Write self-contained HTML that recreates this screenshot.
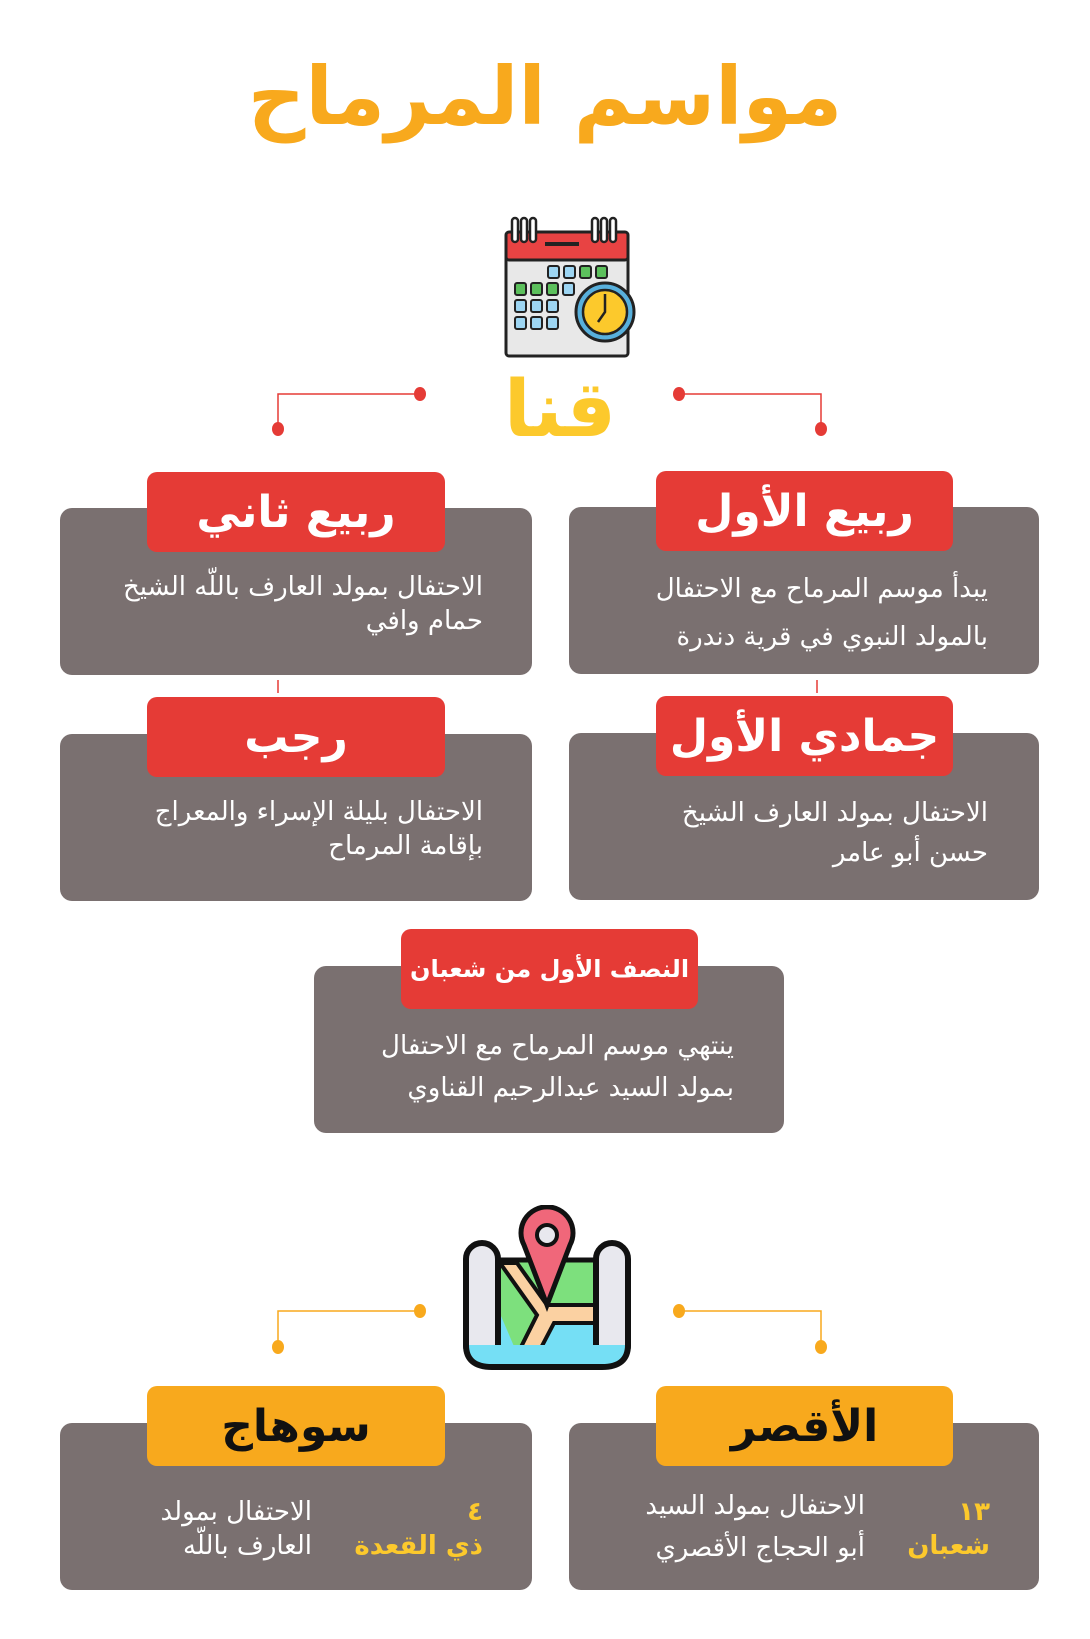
<!DOCTYPE html>
<html><head><meta charset="utf-8"><style>
body{margin:0;width:1090px;height:1639px;background:#fff;position:relative;overflow:hidden;font-family:"DejaVu Sans","Liberation Sans",sans-serif;}
.a{position:absolute}
.box{position:absolute;background:#7a7070;border-radius:12px}
.hd{position:absolute;border-radius:10px;color:#fff;font-weight:bold;font-size:44px;display:flex;align-items:center;justify-content:center;direction:rtl;white-space:nowrap}
.red{background:#e53b36}
.org{background:#f8a91d;color:#111}
.tx{position:absolute;direction:rtl;text-align:right;color:#fff;font-size:26px;line-height:44px;white-space:nowrap}
</style></head><body>
<div class="a" style="left:0;width:1090px;top:50px;text-align:center;font-size:80px;font-weight:bold;color:#f8a91d;direction:rtl">مواسم المرماح</div>

<svg class="a" style="left:500px;top:210px" width="145" height="150" viewBox="0 0 145 150">
<rect x="6" y="40" width="122" height="106" fill="#e8e8e8" stroke="#222" stroke-width="3" rx="3"/>
<rect x="6" y="22" width="122" height="28" fill="#e84343" stroke="#222" stroke-width="3" rx="3"/>
<g fill="#fff" stroke="#222" stroke-width="2.5"><rect x="12" y="8" width="6" height="24" rx="3"/><rect x="21" y="8" width="6" height="24" rx="3"/><rect x="30" y="8" width="6" height="24" rx="3"/><rect x="92" y="8" width="6" height="24" rx="3"/><rect x="101" y="8" width="6" height="24" rx="3"/><rect x="110" y="8" width="6" height="24" rx="3"/></g>
<rect x="45" y="32" width="34" height="4" fill="#222"/>
<g fill="#9dd5f2" stroke="#222" stroke-width="2"><rect x="48" y="56" width="11" height="12" rx="2"/><rect x="64" y="56" width="11" height="12" rx="2"/><rect x="15" y="90" width="11" height="12" rx="2"/><rect x="31" y="90" width="11" height="12" rx="2"/><rect x="47" y="90" width="11" height="12" rx="2"/><rect x="15" y="107" width="11" height="12" rx="2"/><rect x="31" y="107" width="11" height="12" rx="2"/><rect x="47" y="107" width="11" height="12" rx="2"/><rect x="63" y="73" width="11" height="12" rx="2"/></g>
<g fill="#5cc05c" stroke="#222" stroke-width="2"><rect x="80" y="56" width="11" height="12" rx="2"/><rect x="96" y="56" width="11" height="12" rx="2"/><rect x="15" y="73" width="11" height="12" rx="2"/><rect x="31" y="73" width="11" height="12" rx="2"/><rect x="47" y="73" width="11" height="12" rx="2"/></g>
<circle cx="105" cy="102" r="29" fill="#58b0dc" stroke="#222" stroke-width="3"/>
<circle cx="105" cy="102" r="22" fill="#fcc92c" stroke="#222" stroke-width="2.5"/>
<path d="M105 84V102L98 112" stroke="#222" stroke-width="2.5" fill="none"/>
</svg>

<div class="a" style="left:490px;width:140px;top:365px;text-align:center;font-size:78px;font-weight:bold;color:#fcc92c;direction:rtl">قنا</div>

<svg class="a" style="left:0;top:0" width="1090" height="1639">
<g stroke="#e53b36" stroke-width="1.5" fill="none"><path d="M420 394H278V429"/><path d="M679 394H821V429"/><path d="M278 680V693"/><path d="M817 680V693"/></g>
<g fill="#e53b36"><ellipse cx="420" cy="394" rx="6" ry="7"/><ellipse cx="278" cy="429" rx="6" ry="7"/><ellipse cx="679" cy="394" rx="6" ry="7"/><ellipse cx="821" cy="429" rx="6" ry="7"/></g>
<g stroke="#f8a91d" stroke-width="1.5" fill="none"><path d="M420 1311H278V1347"/><path d="M679 1311H821V1347"/></g>
<g fill="#f8a91d"><ellipse cx="420" cy="1311" rx="6" ry="7"/><ellipse cx="278" cy="1347" rx="6" ry="7"/><ellipse cx="679" cy="1311" rx="6" ry="7"/><ellipse cx="821" cy="1347" rx="6" ry="7"/></g>
</svg>

<div class="box" style="left:60px;top:508px;width:472px;height:167px"></div>
<div class="hd red" style="left:147px;top:472px;width:298px;height:80px">ربيع ثاني</div>
<div class="tx" style="right:607px;top:570px;line-height:34px">الاحتفال بمولد العارف باللّه الشيخ<br>حمام وافي</div>

<div class="box" style="left:569px;top:507px;width:470px;height:167px"></div>
<div class="hd red" style="left:656px;top:471px;width:297px;height:80px">ربيع الأول</div>
<div class="tx" style="right:102px;top:565px;line-height:48px">يبدأ موسم المرماح مع الاحتفال<br>بالمولد النبوي في قرية دندرة</div>

<div class="box" style="left:60px;top:734px;width:472px;height:167px"></div>
<div class="hd red" style="left:147px;top:697px;width:298px;height:80px">رجب</div>
<div class="tx" style="right:607px;top:795px;line-height:34px">الاحتفال بليلة الإسراء والمعراج<br>بإقامة المرماح</div>

<div class="box" style="left:569px;top:733px;width:470px;height:167px"></div>
<div class="hd red" style="left:656px;top:696px;width:297px;height:80px">جمادي الأول</div>
<div class="tx" style="right:102px;top:793px;line-height:40px">الاحتفال بمولد العارف الشيخ<br>حسن أبو عامر</div>

<div class="box" style="left:314px;top:966px;width:470px;height:167px"></div>
<div class="hd red" style="left:401px;top:929px;width:297px;height:80px;font-size:24px">النصف الأول من شعبان</div>
<div class="tx" style="right:356px;top:1025px;line-height:42px">ينتهي موسم المرماح مع الاحتفال<br>بمولد السيد عبدالرحيم القناوي</div>

<svg class="a" style="left:462px;top:1205px" width="170" height="168" viewBox="0 0 170 168">
<rect x="30" y="55" width="110" height="105" fill="#7de07d" stroke="#111" stroke-width="5"/>
<path d="M30 90L60 160H30Z M60 160L85 110L140 110V160Z" fill="#75dff5"/>
<path d="M38 58L75 110L50 160H70L92 118H140V100H85L55 58Z" fill="#fbd1a2" stroke="#111" stroke-width="4"/>
<rect x="4" y="38" width="32" height="118" rx="16" fill="#e8e8ee" stroke="#111" stroke-width="6"/>
<rect x="134" y="38" width="32" height="118" rx="16" fill="#e8e8ee" stroke="#111" stroke-width="6"/>
<path d="M4 140Q4 162 30 162H140Q166 162 166 140" fill="#75dff5" stroke="#111" stroke-width="6"/>
<path d="M85 100L62 40A26 26 0 1 1 108 40Z" fill="#f0677a" stroke="#111" stroke-width="5"/>
<circle cx="85" cy="30" r="10" fill="#e8e8ee" stroke="#111" stroke-width="4"/>
</svg>

<div class="box" style="left:60px;top:1423px;width:472px;height:167px"></div>
<div class="hd org" style="left:147px;top:1386px;width:298px;height:80px">سوهاج</div>
<div class="tx" style="right:778px;top:1495px;line-height:34px">الاحتفال بمولد<br>العارف باللّه</div>
<div class="tx" style="right:607px;top:1495px;line-height:34px;color:#fcc92c;font-weight:bold">٤<br>ذي القعدة</div>

<div class="box" style="left:569px;top:1423px;width:470px;height:167px"></div>
<div class="hd org" style="left:656px;top:1386px;width:297px;height:80px">الأقصر</div>
<div class="tx" style="right:225px;top:1485px;line-height:42px">الاحتفال بمولد السيد<br>أبو الحجاج الأقصري</div>
<div class="tx" style="right:100px;top:1495px;line-height:34px;color:#fcc92c;font-weight:bold">١٣<br>شعبان</div>
</body></html>
